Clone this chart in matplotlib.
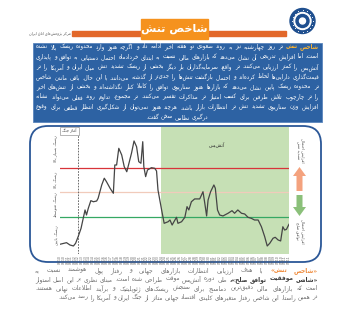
import matplotlib
matplotlib.use('Agg')
import numpy as np
import pandas as pd
import matplotlib.pyplot as plt
from matplotlib.patches import FancyBboxPatch, Rectangle, Circle, FancyArrow

plt.rcParams['font.family'] = ['DejaVu Sans']

# ---- data ----
t = [0, 1.8, 2.75, 3.7, 4.3, 5.0, 5.8, 6.4, 6.9, 7.3, 7.8, 8.5, 9.2, 10.1, 10.5,
     11.5, 12.2, 12.8, 13.8, 14.7, 15.1, 15.6, 16.2, 17.0, 17.7, 18.4, 19.0, 19.7,
     20.4, 21.1, 21.7, 22.3, 22.8, 23.1, 23.6, 24.1, 25.2, 26.1, 26.6, 27.0, 27.5,
     28.0, 28.7, 29.8, 30.3, 30.9, 31.4, 32.1, 32.5, 33.5, 34.4, 35.0, 35.5, 36.2,
     37.1, 38.5, 39.4, 39.9, 40.4, 40.8, 41.5, 42.4, 42.8, 43.4, 44.0, 44.9, 46.3,
     47.4, 48.1, 49.0, 50.0, 50.9, 51.8, 52.7, 53.6, 54.6, 55.5, 56.4, 57.1, 57.8,
     58.7, 59.3, 60.1, 60.8, 61.4, 61.9, 62.4, 63.1]
stress = [7.7, 9.0, 7.1, 6.3, 8.5, 13.9, 20.7, 28.9, 35.7, 31.6, 37.1, 43.3, 42.4,
          43.0, 45.2, 56.1, 61.6, 58.8, 53.4, 49.3, 72.4, 72.4, 86.0, 80.6, 71.0,
          66.9, 73.8, 82.0, 92.0, 87.3, 75.1, 73.8, 91.4, 71.0, 62.9, 68.3, 70.2,
          69.7, 67.5, 52.0, 43.8, 35.7, 24.8, 26.1, 27.5, 23.4, 26.1, 29.7, 24.8,
          26.1, 29.7, 38.4, 35.7, 42.4, 44.7, 44.7, 50.6, 41.1, 30.8, 43.8, 50.6,
          56.1, 53.4, 35.7, 31.6, 30.8, 33.0, 35.1, 33.0, 35.7, 33.0, 32.4, 29.7,
          28.9, 27.5, 27.5, 22.0, 13.9, 6.3, 8.5, 12.6, 13.4, 11.2, 10.4, 22.0,
          19.3, 19.9, 24.0]
dates = list(pd.date_range('2025-06-10', periods=64, freq='12h').strftime('%m/%d'))
war_start = 5
ceasefire = 27.8
thresholds = [70, 50, 30]
threshold_colors = ['#d8343a', '#f1cbbb', '#35a863']
zone_y = [86, 60, 40, 15]
zone_labels = ['ریسک بسیار بالا', 'ریسک بالا', 'ریسک متوسط', 'ریسک پایین']

title = 'شاخص تنش'
org = 'مرکز پژوهش‌های اتاق ایران'
summary = [
    '{شاخص تنش} در روز چهارشنبه نیز به روند صعودی دو هفته اخیر ادامه داد و اگرچه هنوز وارد محدوده ریسک بالا نشده',
    'است، اما افزایش تدریجی آن نشان می‌دهد که بازارهای مالی نسبت به ابتدای خردادماه احتمال دستیابی به توافق و پایداری',
    'آتش‌بس را کمتر ارزیابی می‌کنند. در واقع، سرمایه‌گذاران بار دیگر بخشی از ریسک تشدید تنش میان ایران و آمریکا را در',
    'قیمت‌گذاری دارایی‌ها لحاظ کرده‌اند و احتمال بازگشت تنش‌ها را جدی‌تر از گذشته می‌دانند. با این حال، باقی ماندن شاخص',
    'در محدوده ریسک پایین نشان می‌دهد که بازارها هنوز سناریوی توافق را کاملا کنار نگذاشته‌اند و بخشی از تنش‌های اخیر',
    'را در چارچوب تلاش طرفین برای کسب امتیاز در مذاکرات تفسیر می‌کنند. در مجموع، تداوم روند فعلی می‌تواند نشانه',
    'افزایش وزن سناریوی تشدید تنش در انتظارات بازار باشد، هرچند هنوز نمی‌توان از شکل‌گیری انتظار قطعی برای وقوع',
    'درگیری نظامی سخن گفت.',
]
footnote = [
    '{«شاخص تنش»} با هدف ارزیابی انتظارات بازارهای جهانی و رفتار پول هوشمند نسبت به',
    '[«شانس موفقیت توافق صلح»]، طی دوره آتش‌بس موقت طراحی شده است. مبنای نظری بر این اصل استوار',
    'است که بازارهای مالی دقیق‌ترین دماسنج برای سنجش ریسک‌های ژئوپلیتیک و برآیند اطلاعات نهانی هستند.',
    'در همین راستا، این شاخص رفتار متغیرهای کلیدی اقتصاد جهانی متاثر از جنگ ایران و آمریکا را رصد می‌کند.',
]

# ---- minimal Persian shaping (no reshaper lib available) ----
DUAL = {'ب': 0xFE8F, 'ت': 0xFE95, 'ث': 0xFE99, 'ج': 0xFE9D, 'ح': 0xFEA1, 'خ': 0xFEA5,
        'س': 0xFEB1, 'ش': 0xFEB5, 'ص': 0xFEB9, 'ض': 0xFEBD, 'ط': 0xFEC1, 'ظ': 0xFEC5,
        'ع': 0xFEC9, 'غ': 0xFECD, 'ف': 0xFED1, 'ق': 0xFED5, 'ل': 0xFEDD, 'م': 0xFEE1,
        'ن': 0xFEE5, 'ه': 0xFEE9, 'ي': 0xFEF1, 'ئ': 0xFE89, 'پ': 0xFB56, 'چ': 0xFB7A,
        'ک': 0xFB8E, 'گ': 0xFB92, 'ی': 0xFBFC}
RIGHT = {'ا': 0xFE8D, 'آ': 0xFE81, 'أ': 0xFE83, 'إ': 0xFE87, 'ؤ': 0xFE85, 'د': 0xFEA9,
         'ذ': 0xFEAB, 'ر': 0xFEAD, 'ز': 0xFEAF, 'و': 0xFEED, 'ة': 0xFE93, 'ژ': 0xFB8A}
LAM_ALEF = {'ا': 0xFEFB, 'آ': 0xFEF5, 'أ': 0xFEF7, 'إ': 0xFEF9}
MIRROR = {'«': '»', '»': '«', '(': ')', ')': '('}


def shape(s):
    out = []
    i = 0
    prev = False
    while i < len(s):
        c = s[i]
        nxt = s[i + 1] if i + 1 < len(s) else ''
        if c == 'ل' and nxt in LAM_ALEF:
            out.append(chr(LAM_ALEF[nxt] + prev))
            prev = False
            i += 2
            continue
        if c in DUAL:
            joins = nxt in DUAL or nxt in RIGHT
            out.append(chr(DUAL[c] + prev + 2 * joins))
            prev = True
        elif c in RIGHT:
            out.append(chr(RIGHT[c] + prev))
            prev = False
        else:
            if c != '\u200c':
                out.append(MIRROR.get(c, c))
            prev = False
        i += 1
    return ''.join(reversed(out))


fig = plt.figure(figsize=(3.5, 3.14), dpi=100)
bg = fig.add_axes([0, 0, 1, 1])
bg.set_xlim(0, 350)
bg.set_ylim(314, 0)
bg.axis('off')
renderer = fig.canvas.get_renderer()


def para(lines, x0, x1, y, dy, fs, color, hi, last='right'):
    styles = {None: (color, 'normal'), '{': (hi, 'bold'), '[': ('#3a3a3a', 'bold')}
    rows = []
    for k, line in enumerate(lines):
        arts = []
        st = None
        for tok in line.split():
            for o in '{[':
                if o in tok:
                    st = o
            c, wt = styles[st]
            w = tok.replace('{', '').replace('}', '').replace('[', '').replace(']', '')
            arts.append(bg.text(0, y + k * dy, shape(w), fontsize=fs, color=c,
                                fontweight=wt, ha='right', va='center'))
            if '}' in tok or ']' in tok:
                st = None
        rows.append(arts)
    # shrink the font until every line fits with normal word spacing
    sp = fs * 100 / 72 * 0.32
    need = max(sum(a.get_window_extent(renderer).width for a in arts) + sp * (len(arts) - 1)
               for arts in rows)
    if need > x1 - x0:
        fs = fs * (x1 - x0) / need
        for arts in rows:
            for a in arts:
                a.set_fontsize(fs)
    sp = fs * 100 / 72 * 0.32
    for k, arts in enumerate(rows):
        ws = [a.get_window_extent(renderer).width for a in arts]
        if k == len(rows) - 1:
            gap = sp
        else:
            gap = (x1 - x0 - sum(ws)) / (len(ws) - 1)
        x = x1
        if k == len(rows) - 1 and last == 'center':
            x = (x0 + x1) / 2 + (sum(ws) + gap * (len(ws) - 1)) / 2
        for a, w in zip(arts, ws):
            a.set_x(x)
            x -= w + gap


# ---- header ----
bg.add_patch(Rectangle((72, 31), 70, 5, color='#e2682a'))
bg.add_patch(Rectangle((208, 31), 78, 5, color='#e2682a'))
bg.add_patch(Rectangle((141, 19), 67, 20, color='#f5921e'))
bg.text(174.5, 28.5, shape(title), fontsize=8, fontweight='bold', color='white',
        ha='center', va='center')
bg.text(71, 33, shape(org), fontsize=2.6, color='#555555', ha='right', va='center')
bg.add_patch(Circle((302.5, 21), 12.5, color='#1f4f8f'))
bg.add_patch(Circle((302.5, 21), 8.5, color='white'))
bg.add_patch(Circle((302.5, 21), 6.5, color='#1f4f8f'))
bg.add_patch(Circle((302.5, 21), 3, color='white'))
ang = np.linspace(0, 2 * np.pi, 16, endpoint=False)
bg.scatter(302.5 + 10.6 * np.cos(ang), 21 + 10.6 * np.sin(ang), s=0.6, color='white', lw=0)

# ---- summary box ----
bg.add_patch(Rectangle((33, 43), 289, 79, fc='#2d62a3', ec='#5b86bd', lw=0.6))
para(summary, 36, 319, 47, 10.0, 4.3, 'white', '#f9b233', last='center')

# ---- chart frame ----
bg.add_patch(FancyBboxPatch((30, 126), 291, 136, boxstyle='round,pad=0,rounding_size=18',
                            ec='#2b5797', fc='none', lw=1.3))

ax = fig.add_axes([60 / 350, (314 - 253.7) / 314, 229 / 350, 126.7 / 314])
ax.patch.set_alpha(0)
ax.axvspan(ceasefire, t[-1], color='#c6e0b5', lw=0, zorder=0)
for th, col in zip(thresholds, threshold_colors):
    ax.axhline(th, color=col, lw=0.9, zorder=1)
ax.axvline(war_start, color='#555555', lw=0.6, ls=(0, (2, 1.5)), zorder=1)
ax.plot(t, stress, color='#454545', lw=0.9, zorder=3)
ax.set_xlim(0, t[-1])
ax.set_ylim(0, 103.4)
ax.set_xticks(range(len(dates)))
ax.set_xticklabels(dates, rotation=90, fontsize=2.2, color='#555555')
ax.tick_params(length=0, pad=1)
ax.set_yticks([])
for s in ax.spines.values():
    s.set_visible(False)
ax.text(43.2, 88, shape('آتش‌بس'), fontsize=3.5, color='#333333', ha='center', va='center')
ax.text(2.6, 100, shape('آغاز جنگ'), fontsize=2.8, color='#333333', ha='center', va='center',
        bbox=dict(boxstyle='square,pad=0.5', fc='white', ec='#999999', lw=0.5))
for zy, lab in zip(zone_y, zone_labels):
    ax.text(-0.6, zy, shape(lab), fontsize=3, color='#555555', rotation=90,
            ha='right', va='center')

# ---- right side arrows ----
bg.add_artist(FancyArrow(299.5, 191, 0, -15, width=6, head_width=13, head_length=9,
                         length_includes_head=False, color='#f4a27e', lw=0))
bg.add_artist(FancyArrow(299.5, 195, 0, 12, width=6, head_width=13, head_length=9,
                         length_includes_head=False, color='#8bc07a', lw=0))
bg.text(300, 150, shape('افزایش احتمال') + '\n' + shape('تشدید تنش'), fontsize=2.8,
        color='#555555', rotation=270, ha='center', va='center', multialignment='center')
bg.text(300, 231, shape('افزایش احتمال') + '\n' + shape('توافق صلح'), fontsize=2.8,
        color='#555555', rotation=270, ha='center', va='center', multialignment='center')

# ---- footnote ----
para(footnote, 35, 318, 270.5, 9, 4.2, '#6e6e6e', '#ef8a3a')

fig.savefig('out.png', dpi=100)
